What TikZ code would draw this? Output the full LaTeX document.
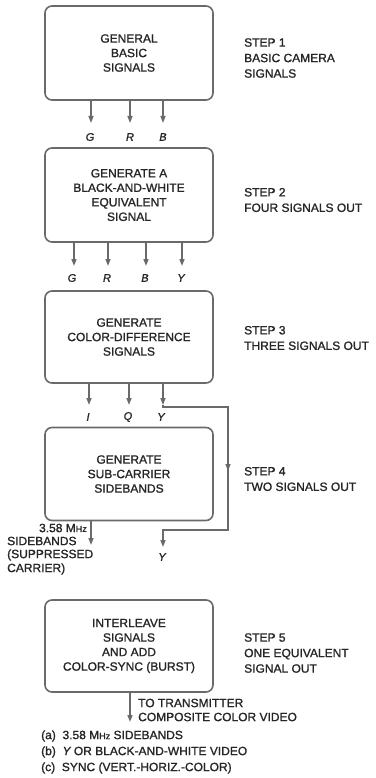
\documentclass[tikz,border=0pt]{standalone}
\usepackage{fontspec}
\setmainfont{Liberation Sans}[FakeBold=1.3,ItalicFeatures={FakeBold=1.3}]
\usetikzlibrary{arrows.meta}
\definecolor{ink}{HTML}{262626}
\definecolor{wire}{HTML}{6A6A6A}
\begin{document}
\begin{tikzpicture}[x=1pt,y=-1pt,
  box/.style={draw=wire,line width=1.6pt,rounded corners=7pt,minimum width=168pt,inner sep=0pt,
    font=\fontsize{12}{14.5}\selectfont,text=ink,align=center},
  wl/.style={draw=wire,line width=1.4pt},
  arr/.style={wl,-{Triangle[width=5pt,length=7pt]}},
  lab/.style={font=\fontsize{12}{14.5}\selectfont,text=ink,inner sep=0pt},
  sig/.style={font=\fontsize{11}{13}\selectfont\itshape,text=ink,inner sep=0pt},
  steplab/.style={lab,anchor=west,align=left,font=\fontsize{12}{15.5}\selectfont}]
\useasboundingbox (0,0) rectangle (375,778);
% boxes
\node[box,minimum height=94pt] (b1) at (129,53) {GENERAL\\BASIC\\SIGNALS};
\node[box,minimum height=94pt] (b2) at (129,195) {GENERATE A\\BLACK-AND-WHITE\\EQUIVALENT\\SIGNAL};
\node[box,minimum height=92pt] (b3) at (129,337) {GENERATE\\COLOR-DIFFERENCE\\SIGNALS};
\node[box,minimum height=93pt] (b4) at (129,474) {GENERATE\\SUB-CARRIER\\SIDEBANDS};
\node[box,minimum height=92pt] (b5) at (129,646) {INTERLEAVE\\SIGNALS\\AND ADD\\COLOR-SYNC (BURST)};
% step labels
\node[steplab] (s1) at (244,58) {STEP 1\\BASIC CAMERA\\SIGNALS};
\node[steplab] (s2) at (244,200) {STEP 2\\FOUR SIGNALS OUT};
\node[steplab] (s3) at (244,338) {STEP 3\\THREE SIGNALS OUT};
\node[steplab] (s4) at (244,479) {STEP 4\\TWO SIGNALS OUT};
\node[steplab] (s5) at (244,653) {STEP 5\\ONE EQUIVALENT\\SIGNAL OUT};
% step 1 outputs
\coordinate (t1g) at (91,123); \coordinate (t1r) at (130,123); \coordinate (t1b) at (163,123);
\draw[arr] (b1.south -| t1g) -- (t1g);
\draw[arr] (b1.south -| t1r) -- (t1r);
\draw[arr] (b1.south -| t1b) -- (t1b);
\node[sig] (g1) at (90,137) {G};
\node[sig] (r1) at (130,137) {R};
\node[sig] (bb1) at (163,137) {B};
% step 2 outputs
\coordinate (t2g) at (74,266); \coordinate (t2r) at (108,266); \coordinate (t2b) at (146,266); \coordinate (t2y) at (182,266);
\draw[arr] (b2.south -| t2g) -- (t2g);
\draw[arr] (b2.south -| t2r) -- (t2r);
\draw[arr] (b2.south -| t2b) -- (t2b);
\draw[arr] (b2.south -| t2y) -- (t2y);
\node[sig] (g2) at (72,278) {G};
\node[sig] (r2) at (107,278) {R};
\node[sig] (bb2) at (145,278) {B};
\node[sig] (y2) at (181,278) {Y};
% step 3 outputs
\coordinate (t3i) at (89,405); \coordinate (t3q) at (129,405); \coordinate (t3y) at (163,405);
\draw[arr] (b3.south -| t3i) -- (t3i);
\draw[arr] (b3.south -| t3q) -- (t3q);
\draw[arr] (b3.south -| t3y) -- (t3y);
\node[sig] (i3) at (88,417) {I};
\node[sig] (q3) at (128,417) {Q};
\node[sig] (y3) at (161,417) {Y};
% Y bypass
\coordinate (ya) at (163,407); \coordinate (yb) at (228,407); \coordinate (ym) at (228,471);
\coordinate (yc) at (228,530); \coordinate (yd) at (163,530); \coordinate (ye) at (163,547);
\draw[wl] (t3y) -- (ya) -- (yb) -- (ym);
\draw[arr] (yb) -- (ym);
\draw[wl] (ym) -- (yc) -- (yd);
\draw[arr] (yc) -- (yd) -- (ye);
\node[sig] (y4) at (162,557) {Y};
% sidebands
\coordinate (t4s) at (91,545);
\draw[arr] (b4.south -| t4s) -- (t4s);
\node[lab,anchor=east] (sb1) at (87,528) {3.58 M{\fontsize{9}{10}\selectfont H\raisebox{0.3pt}{z}}};
\node[lab,anchor=west] (sb2) at (7,541) {SIDEBANDS};
\node[lab,anchor=west] (sb3) at (7,555) {(SUPPRESSED};
\node[lab,anchor=west] (sb4) at (7,569) {CARRIER)};
% output
\coordinate (t5) at (130,722);
\draw[arr] (b5.south -| t5) -- (t5);
\node[lab,anchor=west] (o1) at (138,703) {TO TRANSMITTER};
\node[lab,anchor=west] (o2) at (138,717) {COMPOSITE COLOR VIDEO};
\node[lab,anchor=west] (la) at (41,736) {(a)\ \ 3.58 M{\fontsize{9}{10}\selectfont Hz} SIDEBANDS};
\node[lab,anchor=west] (lb) at (41,752) {(b)\ \ {\itshape Y} OR BLACK-AND-WHITE VIDEO};
\node[lab,anchor=west] (lc) at (41,768) {(c)\ \ SYNC (VERT.-HORIZ.-COLOR)};
\end{tikzpicture}
\end{document}
